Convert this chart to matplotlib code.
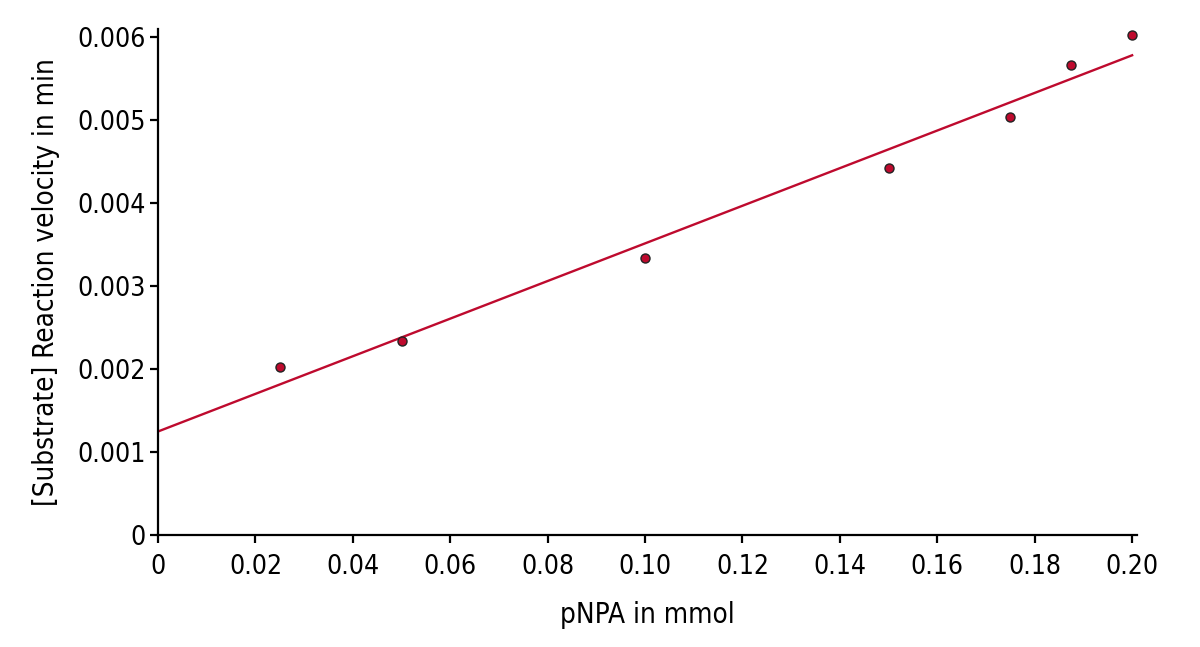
import numpy as np
import matplotlib
matplotlib.use("Agg")
import matplotlib.pyplot as plt
from matplotlib.ticker import FixedLocator, FixedFormatter

# data
substrate = [0.025, 0.05, 0.10, 0.15, 0.175, 0.1875, 0.20]
velocity = [0.00203, 0.00234, 0.00334, 0.00442, 0.00504, 0.00566, 0.00603]

x_ticks = [0, 0.02, 0.04, 0.06, 0.08, 0.10, 0.12, 0.14, 0.16, 0.18, 0.20]
x_labels = ["0", "0.02", "0.04", "0.06", "0.08", "0.10", "0.12", "0.14",
            "0.16", "0.18", "0.20"]
y_ticks = [0, 0.001, 0.002, 0.003, 0.004, 0.005, 0.006]
y_labels = ["0", "0.001", "0.002", "0.003", "0.004", "0.005", "0.006"]

RED = "#BE0A2E"
plt.rcParams["font.family"] = ["DejaVu Sans"]
plt.rcParams["font.stretch"] = "condensed"

fig = plt.figure(figsize=(12, 6.47), dpi=100)
ax = fig.add_axes([0.1317, 0.1731, 0.9475 - 0.1317, 0.9552 - 0.1731])

# linear fit
slope, intercept = np.polyfit(substrate, velocity, 1)
fit_x = np.array([0, 0.20])
ax.plot(fit_x, intercept + slope * fit_x, color=RED, lw=1.7, zorder=2)

ax.plot(substrate, velocity, "o", ms=6.5, mfc=RED, mec="#222222",
        mew=1.0, zorder=3, clip_on=False)

ax.set_xlim(0, 0.201)
ax.set_ylim(0, 0.0061)
ax.xaxis.set_major_locator(FixedLocator(x_ticks))
ax.xaxis.set_major_formatter(FixedFormatter(x_labels))
ax.yaxis.set_major_locator(FixedLocator(y_ticks))
ax.yaxis.set_major_formatter(FixedFormatter(y_labels))

ax.spines[["top", "right"]].set_visible(False)
for s in ["left", "bottom"]:
    ax.spines[s].set_linewidth(1.6)
ax.tick_params(direction="out", length=6, width=1.6, labelsize=19,
               color="black")
ax.tick_params(axis="x", pad=8)
ax.tick_params(axis="y", pad=3)

ax.set_xlabel("pNPA in mmol", fontsize=20, labelpad=15)
ax.set_ylabel("[Substrate] Reaction velocity in min", fontsize=20, labelpad=12)

fig.savefig("out.png", dpi=100)
